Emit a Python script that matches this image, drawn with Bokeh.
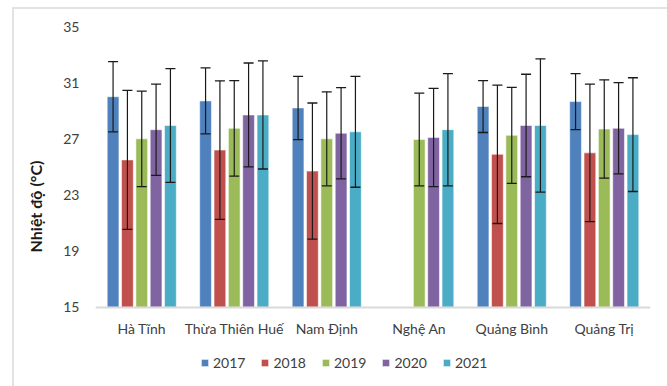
import math
from bokeh.plotting import figure
from bokeh.models import (ColumnDataSource, FactorRange, Range1d, FixedTicker, Whisker,
                          TeeHead, Legend, LegendItem, InlineStyleSheet)
from bokeh.transform import dodge
from bokeh.embed import file_html
from bokeh.resources import INLINE

nan = math.nan

# Mean temperature (°C) per province and year, with standard deviations
provinces = ["Hà Tĩnh", "Thừa Thiên Huế", "Nam Định", "Nghệ An", "Quảng Bình", "Quảng Trị"]
years = ["2017", "2018", "2019", "2020", "2021"]

mean_2017 = [30.0, 29.7, 29.2, nan, 29.3, 29.65]
mean_2018 = [25.5, 26.2, 24.7, nan, 25.9, 26.0]
mean_2019 = [27.0, 27.75, 27.0, 26.95, 27.25, 27.7]
mean_2020 = [27.65, 28.7, 27.4, 27.1, 27.95, 27.75]
mean_2021 = [27.95, 28.7, 27.5, 27.65, 27.95, 27.3]

sd_2017 = [2.5, 2.35, 2.25, nan, 1.85, 2.0]
sd_2018 = [4.95, 4.93, 4.85, nan, 4.93, 4.9]
sd_2019 = [3.4, 3.4, 3.35, 3.3, 3.42, 3.5]
sd_2020 = [3.25, 3.7, 3.25, 3.5, 3.65, 3.25]
sd_2021 = [4.05, 3.85, 3.95, 4.0, 4.75, 4.05]

y_ticks = [15, 19, 23, 27, 31, 35]

means = [mean_2017, mean_2018, mean_2019, mean_2020, mean_2021]
sds = [sd_2017, sd_2018, sd_2019, sd_2020, sd_2021]
colors = ["#4F81BD", "#C0504D", "#9BBB59", "#8064A2", "#4BACC6"]
offsets = [-0.31, -0.155, 0.0, 0.155, 0.31]

FONT = "Lato"
TEXT = "#404040"

# light frame around the chart area (left and top edges fall inside the window)
frame_css = InlineStyleSheet(css="""
:host::after {
  content: ""; position: absolute; left: 12px; top: 7px;
  width: 653px; height: 377px;
  border-left: 2px solid #e3e3e3; border-top: 2px solid #e3e3e3;
  pointer-events: none;
}
""")

# the plot area runs down to the bottom edge so that the category labels and
# the legend row can sit inside it, below the value axis baseline at 15 °C
p = figure(x_range=FactorRange(*provinces, range_padding=0),
           y_range=Range1d(9.36, 35),
           width=667, height=386, output_backend="svg", toolbar_location=None,
           min_border_left=95, min_border_right=17, min_border_top=26, min_border_bottom=0,
           stylesheets=[frame_css])

p.outline_line_color = None
p.xgrid.grid_line_color = None
p.ygrid.grid_line_color = None

legend_items = []
for year, m, s, c, off in zip(years, means, sds, colors, offsets):
    keep = [i for i, v in enumerate(m) if not math.isnan(v)]
    src = ColumnDataSource(dict(
        prov=[provinces[i] for i in keep],
        top=[m[i] for i in keep],
        upper=[m[i] + s[i] for i in keep],
        lower=[m[i] - s[i] for i in keep],
    ))
    r = p.vbar(x=dodge("prov", off, range=p.x_range), top="top", bottom=15, width=0.127,
               source=src, fill_color=c, line_color="white", line_alpha=0.55, line_width=1)
    w = Whisker(base=dodge("prov", off, range=p.x_range), upper="upper", lower="lower",
                source=src, line_color="#1a1a1a", line_width=1.2, level="overlay",
                upper_head=TeeHead(size=10, line_color="#1a1a1a", line_width=1.3),
                lower_head=TeeHead(size=10, line_color="#1a1a1a", line_width=1.3))
    p.add_layout(w)
    legend_items.append(LegendItem(label=year, renderers=[r]))

# value axis
p.yaxis.ticker = FixedTicker(ticks=y_ticks)
p.yaxis.bounds = (15, 35)
p.yaxis.axis_line_color = None
p.yaxis.major_tick_line_color = None
p.yaxis.minor_tick_line_color = None
p.yaxis.major_label_standoff = 10
p.yaxis.major_label_text_font = FONT
p.yaxis.major_label_text_font_size = "14px"
p.yaxis.major_label_text_color = TEXT
p.yaxis.axis_label = "Nhiệt độ (°C)"
p.yaxis.axis_label_text_font = FONT
p.yaxis.axis_label_text_font_style = "bold"
p.yaxis.axis_label_text_font_size = "16px"
p.yaxis.axis_label_text_color = "#1a1a1a"
p.yaxis.axis_label_standoff = 15

# category axis drawn on the 15 °C baseline
p.xaxis.fixed_location = 15
p.xaxis.axis_line_color = "#d9d9d9"
p.xaxis.axis_line_width = 2
p.xaxis.major_tick_line_color = None
p.xaxis.minor_tick_line_color = None
p.xaxis.major_label_standoff = 7
p.xaxis.major_label_text_font = FONT
p.xaxis.major_label_text_font_size = "14px"
p.xaxis.major_label_text_color = TEXT

legend = Legend(items=legend_items, orientation="horizontal", location=(105, 15),
                glyph_width=9, glyph_height=9, label_standoff=4, spacing=15,
                padding=0, margin=0, border_line_color=None, background_fill_alpha=0,
                label_text_font=FONT, label_text_font_size="14px", label_text_color=TEXT)
p.add_layout(legend, "center")

open("out.html", "w").write(file_html(p, INLINE))
